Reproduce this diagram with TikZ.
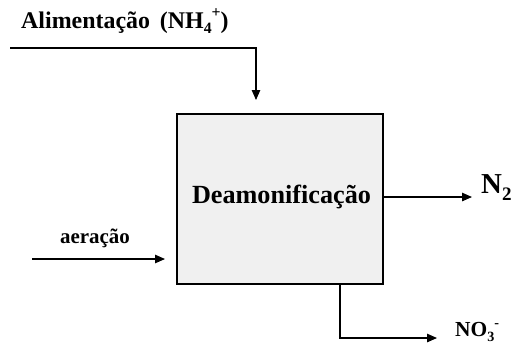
\documentclass[tikz,border=0pt]{standalone}
\usepackage{fontspec}
\setmainfont{Liberation Serif}
\usetikzlibrary{arrows.meta}
\newcommand\lowsub[1]{\raisebox{-0.25em}{\scalebox{0.66}{#1}}}
\newcommand\highsup[1]{\raisebox{0.42em}{\scalebox{0.66}{#1}}}
\begin{document}
\begin{tikzpicture}[x=1bp,y=-1bp,
  flow/.style={line width=1.1bp,-{Triangle[length=10bp,width=8.5bp]}},
  lbl/.style={inner sep=0pt,font=\bfseries}]
\useasboundingbox (0,0) rectangle (522,344);
\node[draw,line width=1.1bp,fill=black!6,minimum width=206bp,minimum height=170bp,inner sep=0pt] (box) at (280,199) {};
\node[lbl,font=\fontsize{26.3}{28}\selectfont\bfseries,anchor=base] (deam) at (281.5,203) {Deamonificação};
\node[lbl,font=\fontsize{24}{26}\selectfont\bfseries,anchor=base west] (feed) at (21,28) {Alimentação\, (NH\lowsub{4}\highsup{+})};
\node[lbl,font=\fontsize{21}{24}\selectfont\bfseries,anchor=base] (aer) at (95,243) {aeração};
\node[lbl,font=\fontsize{29}{30}\selectfont\bfseries,anchor=base west] (n2) at (481,193) {N\lowsub{2}};
\node[lbl,font=\fontsize{21.5}{22}\selectfont\bfseries,anchor=base west] (no3) at (455,336.5) {NO\lowsub{3}\highsup{-}};
\coordinate (f0) at (10,48);
\coordinate (f1) at (256,100);
\coordinate (a0) at (32,259);
\coordinate (a1) at (165,259);
\coordinate (o0) at (340,284);
\coordinate (o1) at (437,338);
\coordinate (n2e) at (472,197);
\draw[flow] (f0) -| (f1);
\draw[flow] (a0) -- (a1);
\draw[flow] (box.east |- n2e) -- (n2e);
\draw[flow] (o0) |- (o1);
\end{tikzpicture}
\end{document}
